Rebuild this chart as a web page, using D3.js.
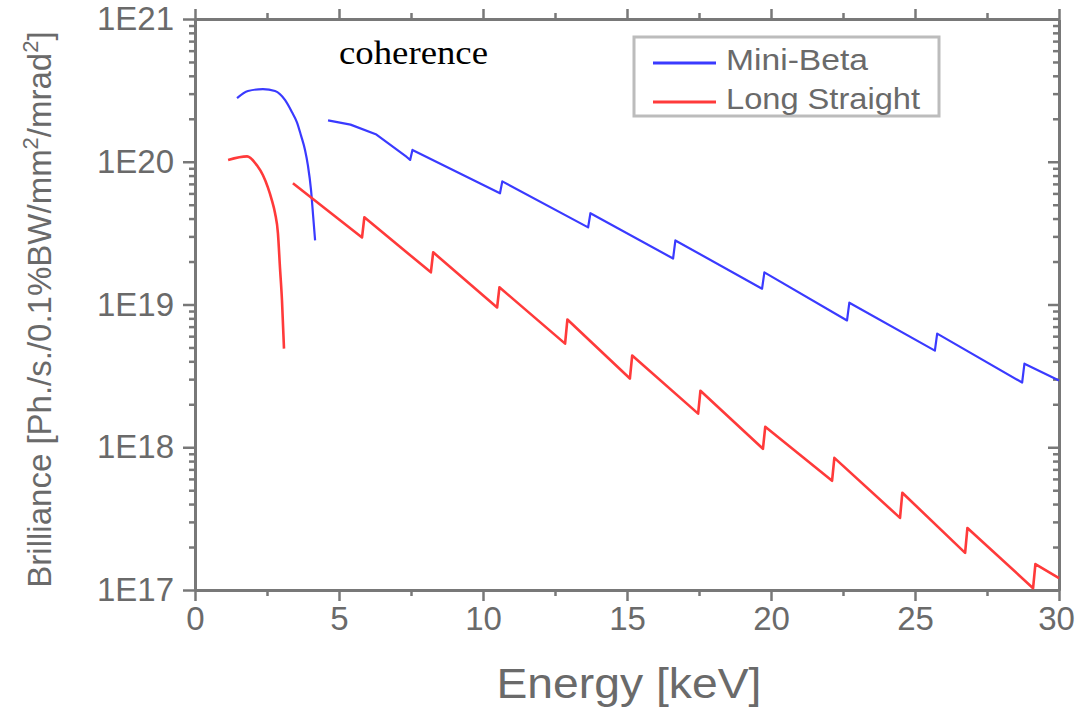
<!DOCTYPE html>
<html>
<head>
<meta charset="utf-8">
<script src="https://cdn.jsdelivr.net/npm/d3@7"></script>
<style>
  body { margin: 0; background: #fff; }
  svg { display: block; font-family: "Liberation Sans", Arial, sans-serif; }
</style>
</head>
<body>
<div id="chart"></div>
<script>
// x axis
const energyTicks = [0, 5, 10, 15, 20, 25, 30];
const energyMinor = [2.5, 7.5, 12.5, 17.5, 22.5, 27.5];
// y axis
const brillTicks = [1e17, 1e18, 1e19, 1e20, 1e21];
const brillLabels = ["1E17", "1E18", "1E19", "1E20", "1E21"];

// Mini-Beta, low energy branch
const miniE1 = [1.46, 1.84, 2.36, 2.78, 3.13, 3.37, 3.54, 3.68, 3.82, 3.92, 4.03, 4.10, 4.17];
const miniB1 = [2.79e20, 3.13e20, 3.23e20, 3.13e20, 2.70e20, 2.22e20, 1.89e20, 1.53e20, 1.21e20, 9.44e19, 6.31e19, 4.22e19, 2.81e19];
// Mini-Beta, harmonics
const miniE2 = [4.62, 5.4, 6.3, 7.35, 7.47, 7.55, 10.59, 10.67, 13.65, 13.73, 16.6, 16.68, 19.69, 19.77, 22.64, 22.72, 25.69, 25.77, 28.72, 28.8, 30];
const miniB2 = [1.95e20, 1.82e20, 1.55e20, 1.08e20, 1.03e20, 1.21e20, 6.01e19, 7.29e19, 3.47e19, 4.36e19, 2.10e19, 2.81e19, 1.29e19, 1.68e19, 7.73e18, 1.03e19, 4.75e18, 6.25e18, 2.84e18, 3.85e18, 2.93e18];

// Long Straight, low energy branch
const longE1 = [1.15, 1.81, 2.15, 2.36, 2.53, 2.67, 2.78, 2.88, 2.95, 3.02, 3.09];
const longB1 = [1.03e20, 1.09e20, 9.44e19, 8.04e19, 6.62e19, 5.37e19, 4.36e19, 3.15e19, 1.82e19, 1.07e19, 4.91e18];
// Long Straight, harmonics
const longE2 = [3.40, 5.80, 5.88, 8.19, 8.27, 10.49, 10.57, 12.85, 12.93, 15.10, 15.18, 17.47, 17.55, 19.72, 19.80, 22.12, 22.20, 24.48, 24.56, 26.74, 26.82, 29.10, 29.18, 30];
const longB2 = [7.06e19, 2.95e19, 4.08e19, 1.68e19, 2.32e19, 9.53e18, 1.32e19, 5.32e18, 7.85e18, 3.03e18, 4.39e18, 1.72e18, 2.49e18, 9.75e17, 1.39e18, 5.82e17, 8.43e17, 3.20e17, 4.80e17, 1.82e17, 2.72e17, 1.03e17, 1.52e17, 1.21e17];

const seriesNames = ["Mini-Beta", "Long Straight"];
const seriesColors = ["#3a3aff", "#ff3a3a"];
const seriesWidths = [2.2, 2.6];

const W = 1076, H = 707;
const margin = {top: 19, right: 17, bottom: 117, left: 195};
const axisColor = "#787878";
const textColor = "#6a6a6a";

const svg = d3.select("#chart").append("svg")
    .attr("width", W)
    .attr("height", H);

const x = d3.scaleLinear().domain([0, 30]).range([margin.left, W - margin.right]);
const y = d3.scaleLog().domain([1e17, 1e21]).range([H - margin.bottom, margin.top]);

const minorY = y.ticks().filter(v => !brillTicks.includes(v));

function styleAxis(g) {
    g.select(".domain").attr("stroke", axisColor).attr("stroke-width", 3);
    g.selectAll(".tick line").attr("stroke", axisColor).attr("stroke-width", 2.5);
    g.selectAll(".tick text").attr("fill", textColor).style("font-size", "33px");
}

// bottom
svg.append("g")
    .attr("transform", `translate(0,${y(1e17)})`)
    .call(d3.axisBottom(x).tickValues(energyMinor).tickSize(6).tickFormat("").tickSizeOuter(0))
    .call(styleAxis);
const xAxisG = svg.append("g")
    .attr("transform", `translate(0,${y(1e17)})`)
    .call(d3.axisBottom(x).tickValues(energyTicks).tickSize(11).tickPadding(6).tickFormat(d3.format("d")).tickSizeOuter(0))
    .call(styleAxis);
// last label sits against the page edge
xAxisG.selectAll(".tick text").filter(d => d === 30).attr("dx", -3);

// top
svg.append("g")
    .attr("transform", `translate(0,${y(1e21)})`)
    .call(d3.axisTop(x).tickValues(energyMinor).tickSize(6).tickFormat("").tickSizeOuter(0))
    .call(styleAxis);
svg.append("g")
    .attr("transform", `translate(0,${y(1e21)})`)
    .call(d3.axisTop(x).tickValues(energyTicks).tickSize(10).tickFormat("").tickSizeOuter(0))
    .call(styleAxis);

// left
svg.append("g")
    .attr("transform", `translate(${x(0)},0)`)
    .call(d3.axisLeft(y).tickValues(minorY).tickSize(6).tickFormat("").tickSizeOuter(0))
    .call(styleAxis);
svg.append("g")
    .attr("transform", `translate(${x(0)},0)`)
    .call(d3.axisLeft(y).tickValues(brillTicks).tickSize(12).tickPadding(9)
        .tickFormat((d, i) => brillLabels[i]).tickSizeOuter(0))
    .call(styleAxis);

// right (ticks pointing in)
svg.append("g")
    .attr("transform", `translate(${x(30)},0)`)
    .call(d3.axisLeft(y).tickValues(minorY).tickSize(6).tickFormat("").tickSizeOuter(0))
    .call(styleAxis);
svg.append("g")
    .attr("transform", `translate(${x(30)},0)`)
    .call(d3.axisLeft(y).tickValues(brillTicks).tickSize(11).tickFormat("").tickSizeOuter(0))
    .call(styleAxis);

// axis titles
svg.append("text")
    .attr("x", (x(0) + x(30)) / 2 + 2)
    .attr("y", 698)
    .attr("text-anchor", "middle")
    .attr("fill", textColor)
    .attr("textLength", 265)
    .attr("lengthAdjust", "spacingAndGlyphs")
    .style("font-size", "42px")
    .text("Energy [keV]");

const yTitle = svg.append("text")
    .attr("transform", `translate(51,${(y(1e17) + y(1e21)) / 2 + 5}) rotate(-90)`)
    .attr("text-anchor", "middle")
    .attr("fill", textColor)
    .style("font-size", "33px");
yTitle.append("tspan").text("Brilliance [Ph./s./0.1%BW/mm");
yTitle.append("tspan").attr("dy", -13).style("font-size", "22px").text("2");
yTitle.append("tspan").attr("dy", 13).text("/mrad");
yTitle.append("tspan").attr("dy", -13).style("font-size", "22px").text("2");
yTitle.append("tspan").attr("dy", 13).text("]");

// curves: low-energy branches smoothed, harmonic sawtooth kept straight
const line = d3.line().x(d => x(d[0])).y(d => y(d[1]));
const smooth = d3.line().x(d => x(d[0])).y(d => y(d[1])).curve(d3.curveMonotoneX);

const curves = [
    {e: miniE1, b: miniB1, s: 0, gen: smooth},
    {e: miniE2, b: miniB2, s: 0, gen: line},
    {e: longE1, b: longB1, s: 1, gen: smooth},
    {e: longE2, b: longB2, s: 1, gen: line}
];

curves.forEach(c => {
    const pts = c.e.map((v, i) => [v, c.b[i]]);
    svg.append("path")
        .attr("d", c.gen(pts))
        .attr("fill", "none")
        .attr("stroke", seriesColors[c.s])
        .attr("stroke-width", seriesWidths[c.s])
        .attr("stroke-linejoin", "round");
});

// annotation
svg.append("text")
    .attr("x", 339)
    .attr("y", 64)
    .attr("fill", "#000")
    .attr("textLength", 149)
    .attr("lengthAdjust", "spacingAndGlyphs")
    .style("font-family", "'Liberation Serif', 'Times New Roman', serif")
    .style("font-size", "34px")
    .text("coherence");

// legend
const legend = svg.append("g");
legend.append("rect")
    .attr("x", 634).attr("y", 37)
    .attr("width", 305).attr("height", 79)
    .attr("fill", "#fff")
    .attr("stroke", "#bcbcbc")
    .attr("stroke-width", 3);

const legendRows = [63, 102];
const legendLens = [142, 194];
seriesNames.forEach((name, i) => {
    legend.append("line")
        .attr("x1", 653).attr("x2", 716)
        .attr("y1", legendRows[i]).attr("y2", legendRows[i])
        .attr("stroke", seriesColors[i])
        .attr("stroke-width", seriesWidths[i] + 0.6);
    legend.append("text")
        .attr("x", 726)
        .attr("y", legendRows[i] + 7)
        .attr("fill", textColor)
        .attr("textLength", legendLens[i])
        .attr("lengthAdjust", "spacingAndGlyphs")
        .style("font-size", "29px")
        .text(name);
});
</script>
</body>
</html>
